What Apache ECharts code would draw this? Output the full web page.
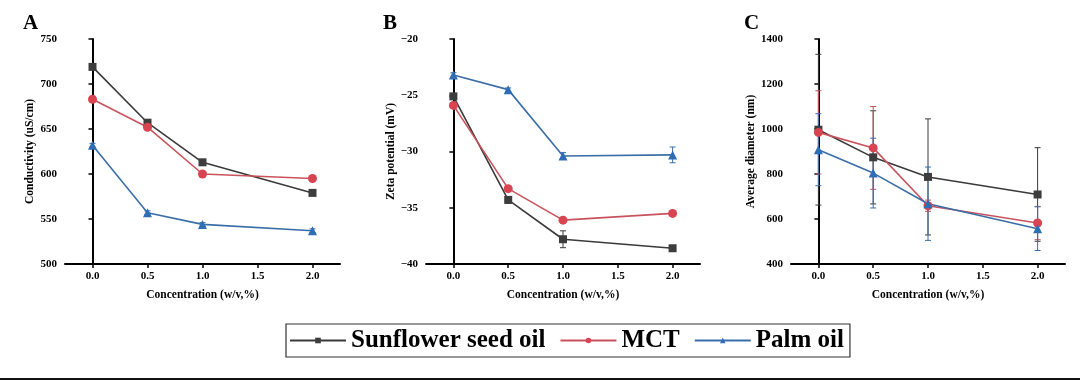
<!DOCTYPE html>
<html>
<head>
<meta charset="utf-8">
<script src="https://cdn.jsdelivr.net/npm/echarts@6/dist/echarts.min.js"></script>
<style>
html,body{margin:0;padding:0;background:#fff;}
#chart{width:1080px;height:380px;}
</style>
</head>
<body>
<div id="chart"></div>
<script>
// ---- data ----
const conc = [0, 0.5, 1, 2];
const xTicks = [0, 0.5, 1, 1.5, 2];
const seriesNames = ['Sunflower seed oil', 'MCT', 'Palm oil'];

// Panel A: conductivity (uS/cm)
const sunA = [719, 657, 613, 579];
const sunAErr = [2, 2, 2, 2];
const mctA = [683, 652, 600, 595];
const mctAErr = [2, 2, 1, 2];
const palmA = [632, 557, 544, 537];
const palmAErr = [2, 2, 2, 2];

// Panel B: zeta potential (mV)
const sunB = [-25.1, -34.3, -37.8, -38.6];
const sunBErr = [0.2, 0.3, 0.75, 0.15];
const mctB = [-25.9, -33.3, -36.1, -35.5];
const mctBErr = [0.2, 0.2, 0.15, 0.15];
const palmB = [-23.2, -24.5, -30.4, -30.3];
const palmBErr = [0.2, 0.15, 0.3, 0.7];

// Panel C: average diameter (nm)
const sunC = [997, 874, 787, 709];
const sunCErr = [335, 207, 258, 208];
const mctC = [985, 916, 659, 582];
const mctCErr = [185, 184, 25, 74];
const palmC = [908, 804, 668, 557];
const palmCErr = [160, 155, 163, 97];

// y-axis settings
const yA = {min: 500, max: 750, interval: 50, name: 'Conductivity (uS/cm)'};
const yB = {min: -40, max: -20, interval: 5, name: 'Zeta potential (mV)'};
const yC = {min: 400, max: 1400, interval: 200, name: 'Average diameter (nm)'};

// ---- styling ----
const FONT = '"Liberation Serif", "Times New Roman", serif';
const colors = ['#3d3d3d', '#d84450', '#2f6db5'];
const lineColors = ['#3a3a3a', '#c9535c', '#3a6ea8'];
const symbols = ['rect', 'circle', 'triangle'];
const symbolSizes = [8, 9, 9];

const grids = [
  {left: 65, top: 39, width: 275, height: 225},
  {left: 426, top: 39, width: 274, height: 225},
  {left: 791, top: 39, width: 274, height: 225}
];
const yCfg = [yA, yB, yC];
const nameGaps = [29, 29, 34];
const panelData = [
  [[sunA, sunAErr], [mctA, mctAErr], [palmA, palmAErr]],
  [[sunB, sunBErr], [mctB, mctBErr], [palmB, palmBErr]],
  [[sunC, sunCErr], [mctC, mctCErr], [palmC, palmCErr]]
];

const axisLineStyle = {color: '#000', width: 2};

const xAxes = grids.map((g, i) => ({
  type: 'value', gridIndex: i, min: -0.25, max: 2.25,
  name: 'Concentration (w/v,%)', nameLocation: 'middle', nameGap: 25,
  nameTextStyle: {fontFamily: FONT, fontWeight: 'bold', fontSize: 11.5, color: '#000'},
  axisLine: {show: true, lineStyle: axisLineStyle},
  axisTick: {show: true, length: 4, lineStyle: {color: '#000', width: 1.5}, customValues: xTicks},
  axisLabel: {fontFamily: FONT, fontWeight: 'bold', fontSize: 11, color: '#000', margin: 7,
    customValues: xTicks, formatter: v => v.toFixed(1)},
  splitLine: {show: false}
}));

const yAxes = yCfg.map((c, i) => ({
  type: 'value', gridIndex: i, min: c.min, max: c.max, interval: c.interval,
  name: c.name, nameLocation: 'middle', nameGap: nameGaps[i], nameRotate: 90,
  nameTextStyle: {fontFamily: FONT, fontWeight: 'bold', fontSize: 11.5, color: '#000'},
  axisLine: {show: true, lineStyle: axisLineStyle},
  axisTick: {show: true, length: 4, lineStyle: {color: '#000', width: 1.5}},
  axisLabel: {fontFamily: FONT, fontWeight: 'bold', fontSize: 11, color: '#000', margin: 8,
    formatter: v => String(v).replace('-', '\u2212')},
  splitLine: {show: false}
}));

const series = [];
panelData.forEach((panel, pi) => {
  panel.forEach((pair, si) => {
    const vals = pair[0], errs = pair[1];
    series.push({
      type: 'custom', name: seriesNames[si] + ' err', xAxisIndex: pi, yAxisIndex: pi, z: 1,
      silent: true,
      data: conc.map((x, k) => [x, vals[k] - errs[k], vals[k] + errs[k]]),
      renderItem: function (params, api) {
        const lo = api.coord([api.value(0), api.value(1)]);
        const hi = api.coord([api.value(0), api.value(2)]);
        const hw = 3;
        const st = {stroke: lineColors[si], lineWidth: 1};
        return {type: 'group', children: [
          {type: 'line', shape: {x1: lo[0], y1: lo[1], x2: hi[0], y2: hi[1]}, style: st},
          {type: 'line', shape: {x1: lo[0] - hw, y1: lo[1], x2: lo[0] + hw, y2: lo[1]}, style: st},
          {type: 'line', shape: {x1: hi[0] - hw, y1: hi[1], x2: hi[0] + hw, y2: hi[1]}, style: st}
        ]};
      }
    });
    series.push({
      type: 'line', name: seriesNames[si], xAxisIndex: pi, yAxisIndex: pi, z: 3,
      data: conc.map((x, k) => [x, vals[k]]),
      symbol: symbols[si], symbolSize: symbolSizes[si],
      itemStyle: {color: colors[si]},
      lineStyle: {color: lineColors[si], width: 1.6},
      animation: false
    });
  });
});

const option = {
  backgroundColor: '#fff',
  animation: false,
  grid: grids,
  xAxis: xAxes,
  yAxis: yAxes,
  legend: {
    data: seriesNames,
    left: 286, top: 324,
    padding: [4, 6, 4, 3],
    itemWidth: 56, itemHeight: 7, itemGap: 14,
    borderColor: '#333', borderWidth: 1.2,
    textStyle: {fontFamily: FONT, fontWeight: 'bold', fontSize: 25, color: '#000'}
  },
  graphic: [
    {type: 'text', left: 23, top: 13, style: {text: 'A', font: 'bold 21px ' + FONT, fill: '#000'}},
    {type: 'text', left: 383, top: 13, style: {text: 'B', font: 'bold 21px ' + FONT, fill: '#000'}},
    {type: 'text', left: 744, top: 13, style: {text: 'C', font: 'bold 21px ' + FONT, fill: '#000'}},
    {type: 'line', shape: {x1: 0, y1: 379, x2: 1080, y2: 379}, style: {stroke: '#111', lineWidth: 2}}
  ],
  series: series
};

const chart = echarts.init(document.getElementById('chart'), null, {renderer: 'canvas'});
chart.setOption(option);
</script>
</body>
</html>
